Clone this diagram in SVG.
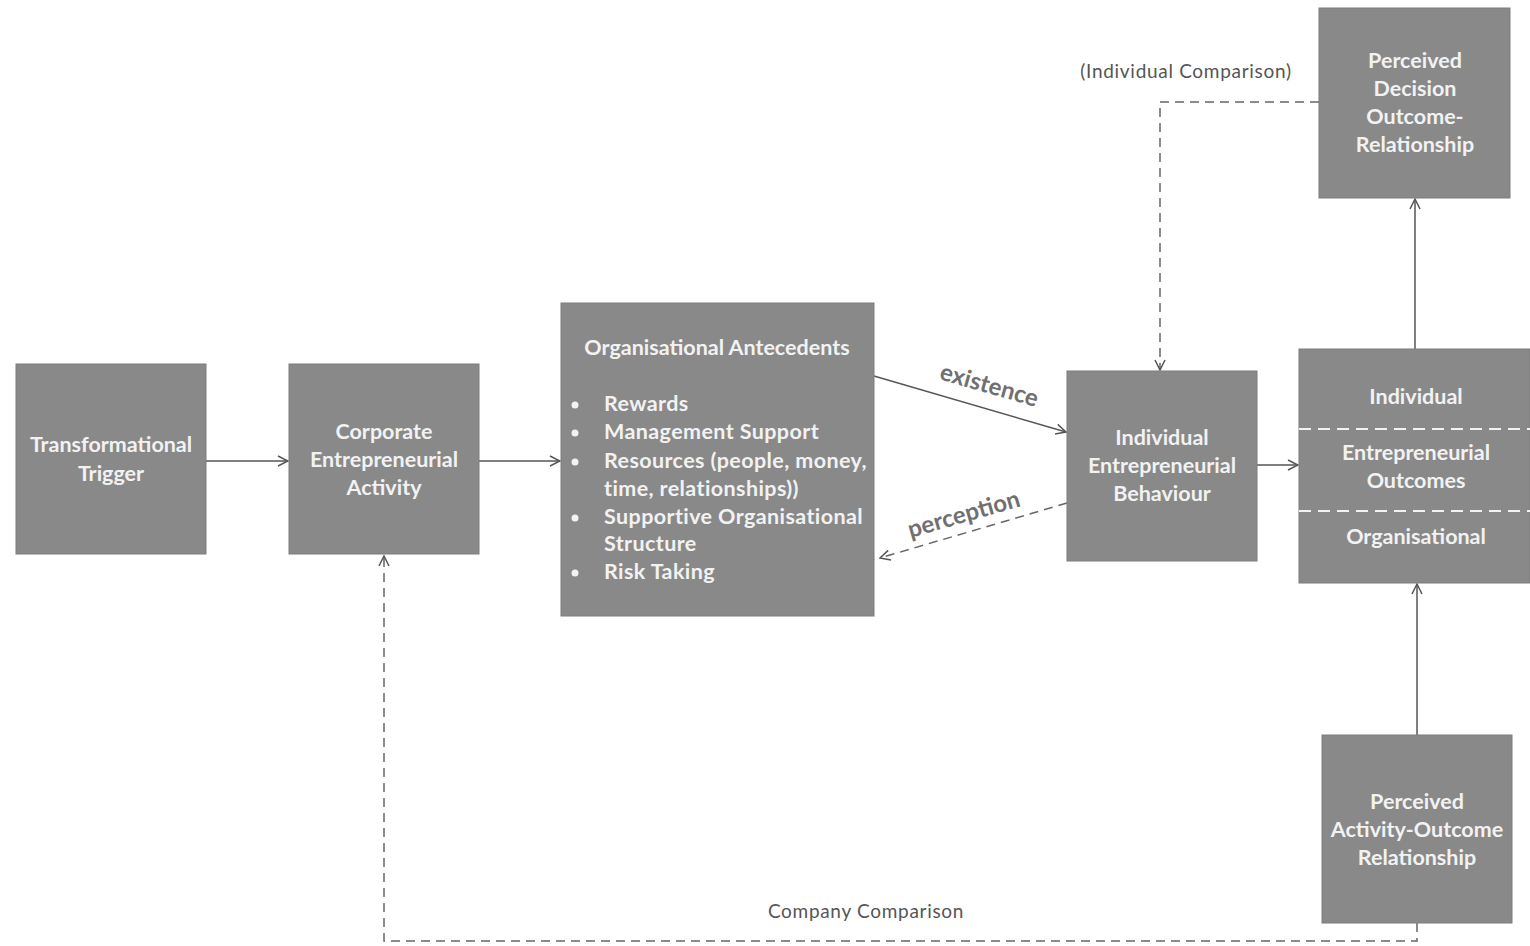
<svg xmlns="http://www.w3.org/2000/svg" width="1530" height="946" viewBox="0 0 1530 946">
<style>
.box{fill:#898989;stroke:#7d7d7d;stroke-width:1}
.t{font-family:Lato,"Liberation Sans",sans-serif;font-weight:bold;font-size:21.5px;fill:#f2f2f2;text-anchor:middle}
.tl{font-family:Lato,"Liberation Sans",sans-serif;font-weight:bold;font-size:21.5px;fill:#f2f2f2;letter-spacing:0.4px}
.c{fill:none;stroke:#555;stroke-width:1.5}
.d{fill:none;stroke:#666;stroke-width:1.5;stroke-dasharray:9,6}
.lab{font-family:Lato,"Liberation Sans",sans-serif;font-size:19px;fill:#555;text-anchor:middle;letter-spacing:0.7px}
.elab{font-family:Lato,"Liberation Sans",sans-serif;font-weight:bold;font-size:24px;fill:#707070;text-anchor:middle}
</style>
<defs>
<marker id="ah" viewBox="0 0 12 12" refX="11" refY="6" markerWidth="12" markerHeight="12" markerUnits="userSpaceOnUse" orient="auto">
<path d="M1,1 L11,6 L1,11" fill="none" stroke="#555" stroke-width="1.5"/>
</marker>
</defs>
<rect width="1530" height="946" fill="#ffffff"/>
<g id="connectors">
<line class="c" x1="206" y1="461" x2="288" y2="461" marker-end="url(#ah)"/>
<line class="c" x1="479" y1="461" x2="560" y2="461" marker-end="url(#ah)"/>
<line class="c" x1="874" y1="376" x2="1066" y2="432" marker-end="url(#ah)"/>
<line class="d" x1="1067" y1="503" x2="880" y2="558" marker-end="url(#ah)"/>
<line class="c" x1="1257" y1="465" x2="1298" y2="465" marker-end="url(#ah)"/>
<line class="c" x1="1415" y1="349" x2="1415" y2="199" marker-end="url(#ah)"/>
<line class="c" x1="1417" y1="735" x2="1417" y2="584" marker-end="url(#ah)"/>
<polyline class="d" points="1319,102 1160,102 1160,370" marker-end="url(#ah)"/>
<polyline class="d" points="1417,923 1417,941 384,941 384,556" marker-end="url(#ah)"/>
<text class="elab" transform="translate(987,393) rotate(16)">existence</text>
<text class="elab" transform="translate(966,522) rotate(-16)">perception</text>
<text class="lab" x="1186" y="78">(Individual Comparison)</text>
<text class="lab" x="866" y="918">Company Comparison</text>
</g>
<g id="transformational-trigger">
<rect class="box" x="16" y="364" width="190" height="190"/>
<text class="t" x="111" y="452">Transformational</text>
<text class="t" x="111" y="481">Trigger</text>
</g>
<g id="corporate-activity">
<rect class="box" x="289" y="364" width="190" height="190"/>
<text class="t" x="384" y="439">Corporate</text>
<text class="t" x="384" y="467">Entrepreneurial</text>
<text class="t" x="384" y="495">Activity</text>
</g>
<g id="organisational-antecedents">
<rect class="box" x="561" y="303" width="313" height="313"/>
<text class="t" x="717" y="355">Organisational Antecedents</text>
<g fill="#f2f2f2">
<circle cx="575" cy="405" r="3.5"/>
<circle cx="575" cy="433" r="3.5"/>
<circle cx="575" cy="462" r="3.5"/>
<circle cx="575" cy="518" r="3.5"/>
<circle cx="575" cy="573" r="3.5"/>
</g>
<text class="tl" x="604" y="411">Rewards</text>
<text class="tl" x="604" y="439">Management Support</text>
<text class="tl" x="604" y="468">Resources (people, money,</text>
<text class="tl" x="604" y="496">time, relationships))</text>
<text class="tl" x="604" y="524">Supportive Organisational</text>
<text class="tl" x="604" y="551">Structure</text>
<text class="tl" x="604" y="579">Risk Taking</text>
</g>
<g id="individual-behaviour">
<rect class="box" x="1067" y="371" width="190" height="190"/>
<text class="t" x="1162" y="445">Individual</text>
<text class="t" x="1162" y="473">Entrepreneurial</text>
<text class="t" x="1162" y="501">Behaviour</text>
</g>
<g id="entrepreneurial-outcomes">
<rect class="box" x="1299" y="349" width="231" height="234"/>
<line x1="1299" y1="429" x2="1530" y2="429" stroke="#f2f2f2" stroke-width="2" stroke-dasharray="12,7"/>
<line x1="1299" y1="511" x2="1530" y2="511" stroke="#f2f2f2" stroke-width="2" stroke-dasharray="12,7"/>
<text class="t" x="1416" y="404">Individual</text>
<text class="t" x="1416" y="460">Entrepreneurial</text>
<text class="t" x="1416" y="488">Outcomes</text>
<text class="t" x="1416" y="544">Organisational</text>
</g>
<g id="perceived-decision">
<rect class="box" x="1319" y="8" width="191" height="190"/>
<text class="t" x="1415" y="68">Perceived</text>
<text class="t" x="1415" y="96">Decision</text>
<text class="t" x="1415" y="124">Outcome-</text>
<text class="t" x="1415" y="152">Relationship</text>
</g>
<g id="perceived-activity">
<rect class="box" x="1322" y="735" width="190" height="188"/>
<text class="t" x="1417" y="809">Perceived</text>
<text class="t" x="1417" y="837">Activity-Outcome</text>
<text class="t" x="1417" y="865">Relationship</text>
</g>
</svg>
